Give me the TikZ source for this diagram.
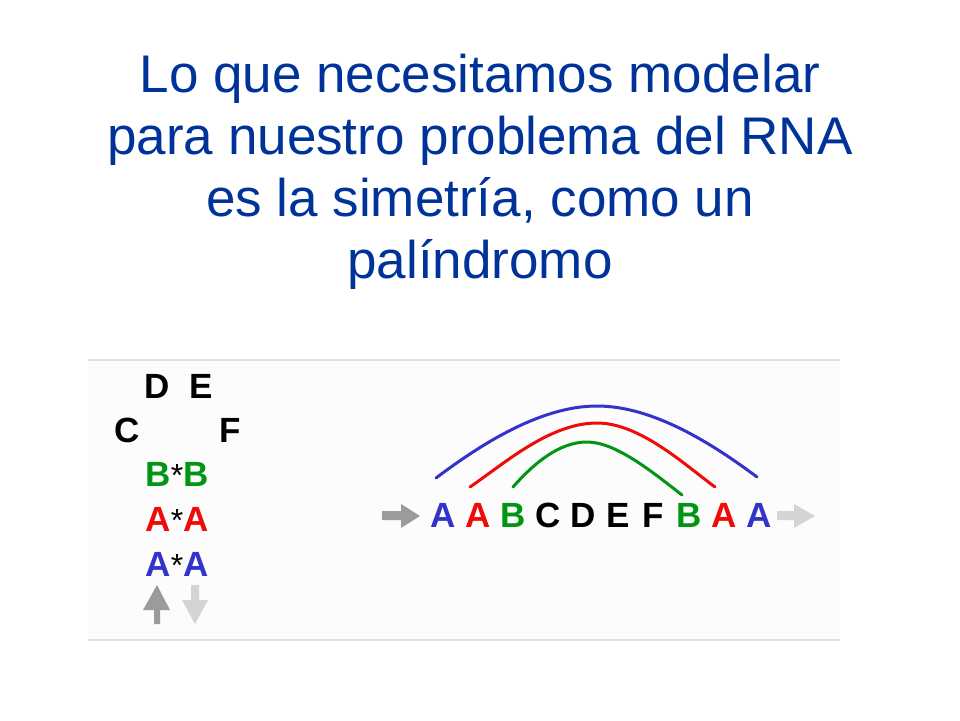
\documentclass[tikz,border=0pt]{standalone}
\usepackage{fontspec}
\setmainfont{Liberation Sans}
\definecolor{titleblue}{RGB}{0,51,153}
\definecolor{sblue}{RGB}{51,51,204}
\definecolor{sred}{RGB}{240,10,10}
\definecolor{sgreen}{RGB}{0,150,20}
\definecolor{dgray}{RGB}{155,155,155}
\definecolor{lgray}{RGB}{212,212,212}
\definecolor{rule}{RGB}{225,225,225}
\definecolor{panel}{RGB}{252,252,252}
\newcommand{\pairstar}{{\mdseries\fontsize{32}{32}\selectfont *}}
\begin{document}
\begin{tikzpicture}[x=1pt,y=-1pt,
  title/.style={text=titleblue,font=\fontsize{53}{62}\selectfont,align=center,inner sep=0pt},
  let/.style={font=\fontsize{35}{35}\selectfont\bfseries,inner sep=0pt,anchor=base},
  arc/.style={line width=3pt,line cap=round}]
\useasboundingbox (0,0) rectangle (960,720);
\fill[white] (0,0) rectangle (960,720);
% panel
\fill[panel] (88,360) rectangle (840,640);
\draw[rule,line width=1.2pt] (88,360) -- (840,360);
\draw[rule,line width=1.2pt] (88,640) -- (840,640);
% title
\node[title,anchor=base] (t1) at (480,92) {Lo que necesitamos modelar};
\node[title,anchor=base] (t2) at (480,154) {para nuestro problema del RNA};
\node[title,anchor=base] (t3) at (480,216) {es la simetría, como un};
\node[title,anchor=base] (t4) at (480,278) {palíndromo};
% left stack
\node[let] (lD) at (157,398) {D};
\node[let] (lE) at (201,398) {E};
\node[let] (lC) at (127,442) {C};
\node[let] (lF) at (230,442) {F};
\node[let] (lB) at (177,486) {\textcolor{sgreen}{B}\pairstar\textcolor{sgreen}{B}};
\node[let] (lA1) at (177,531) {\textcolor{sred}{A}\pairstar\textcolor{sred}{A}};
\node[let] (lA2) at (177,576) {\textcolor{sblue}{A}\pairstar\textcolor{sblue}{A}};
% vertical arrows
\fill[dgray] (157,585) -- (170,610) -- (160,610) -- (160,624) -- (154,624) -- (154,610) -- (143,610) -- cycle;
\fill[lgray] (191,585) -- (199,585) -- (199,600) -- (208,600) -- (195,624) -- (182,600) -- (191,600) -- cycle;
% sequence
\foreach \n/\t/\c [count=\i from 0] in {s1/A/sblue,s2/A/sred,s3/B/sgreen,s4/C/black,s5/D/black,s6/E/black,s7/F/black,s8/B/sgreen,s9/A/sred,s10/A/sblue}{
  \node[let,text=\c] (\n) at (443+35.1*\i,527) {\t};
}
% horizontal arrows
\fill[dgray] (382,511) -- (401,511) -- (401,504) -- (420,516) -- (401,528) -- (401,520) -- (382,520) -- cycle;
\fill[lgray] (777,511) -- (794,511) -- (794,504) -- (815,516) -- (794,528) -- (794,520) -- (777,520) -- cycle;
% arcs
\draw[arc,sblue] (436,478) .. controls (480,445) and (540,406) .. (597,406) .. controls (654,406) and (714,445) .. (757,477);
\draw[arc,sred] (470,487) .. controls (505,463) and (550,423) .. (597,423) .. controls (640,423) and (685,465) .. (715,487);
\draw[arc,sgreen] (513,487) .. controls (535,462) and (560,442) .. (587,442) .. controls (615,442) and (650,470) .. (682,495);
\end{tikzpicture}
\end{document}
